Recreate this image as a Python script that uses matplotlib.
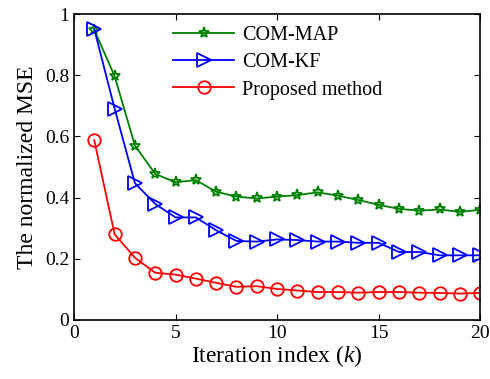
import matplotlib
matplotlib.use("Agg")
import matplotlib.pyplot as plt

k = list(range(1, 21))
com_map = [0.948, 0.797, 0.570, 0.477, 0.450, 0.457, 0.419, 0.403, 0.397, 0.403,
           0.408, 0.417, 0.406, 0.392, 0.376, 0.363, 0.357, 0.361, 0.353, 0.360]
com_kf = [0.950, 0.691, 0.447, 0.379, 0.335, 0.335, 0.293, 0.258, 0.256, 0.263,
          0.261, 0.256, 0.256, 0.252, 0.252, 0.222, 0.222, 0.211, 0.211, 0.211]
proposed = [0.587, 0.280, 0.203, 0.154, 0.148, 0.135, 0.121, 0.108, 0.110, 0.101,
            0.096, 0.091, 0.091, 0.089, 0.091, 0.091, 0.089, 0.088, 0.086, 0.088]

plt.rcParams["font.family"] = ["Liberation Serif", "DejaVu Serif"]
plt.rcParams["mathtext.fontset"] = "custom"
plt.rcParams["mathtext.it"] = "Liberation Serif:italic"
plt.rcParams["mathtext.rm"] = "Liberation Serif"

fig = plt.figure(figsize=(4.9, 3.79), dpi=100)
ax = fig.add_axes([0.151, 0.156, 0.829, 0.807])

ax.plot(k, com_map, color="#008000", marker="*", markersize=8, markerfacecolor="none",
        markeredgewidth=1.3, linewidth=1.3, label="COM-MAP")
ax.plot(k, com_kf, color="#0000ff", marker=">", markersize=9.5, markerfacecolor="none",
        markeredgewidth=1.3, linewidth=1.3, label="COM-KF")
ax.plot(k, proposed, color="#ff0000", marker="o", markersize=9, markerfacecolor="none",
        markeredgewidth=1.3, linewidth=1.3, label="Proposed method")

ax.set_xlim(0, 20)
ax.set_ylim(0, 1)
ax.set_xticks([0, 5, 10, 15, 20])
ax.set_yticks([0, 0.2, 0.4, 0.6, 0.8, 1])
ax.set_yticklabels(["0", "0.2", "0.4", "0.6", "0.8", "1"])
ax.tick_params(direction="in", top=True, right=True, labelsize=14, length=4)
for s in ax.spines.values():
    s.set_linewidth(1.2)

ax.set_xlabel("Iteration index ($k$)", fontsize=17, labelpad=1)
ax.set_ylabel("The normalized MSE", fontsize=17, labelpad=5)

ax.legend(loc="upper left", bbox_to_anchor=(0.215, 1.0), frameon=False, fontsize=14.5,
          handlelength=3.0, handletextpad=0.4, labelspacing=0.4, borderaxespad=0.2)

fig.savefig("out.png", dpi=100)
